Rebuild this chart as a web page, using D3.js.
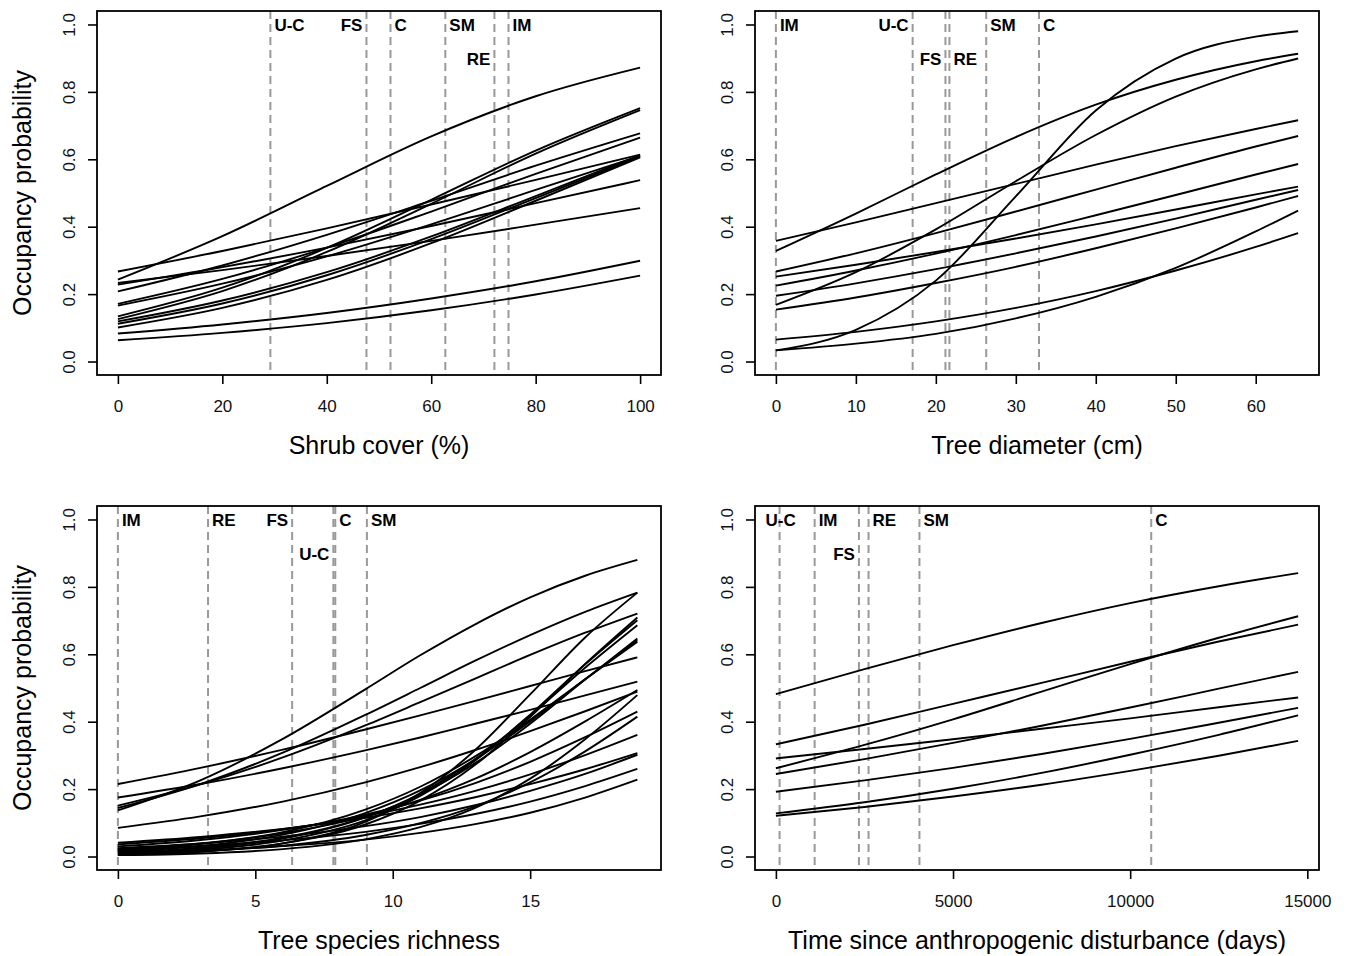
<!DOCTYPE html>
<html>
<head>
<meta charset="utf-8">
<script src="https://cdn.jsdelivr.net/npm/d3@7"></script>
<style>
  body { margin: 0; background: #fff; }
  svg { display: block; font-family: "Liberation Sans", Arial, sans-serif; }
</style>
</head>
<body>
<svg id="chart" width="1347" height="956"></svg>
<script>
// y ticks shared by every panel
var probTicks = [0, 0.2, 0.4, 0.6, 0.8, 1.0];

// Shrub cover
var shrubX = [0, 20, 40, 60, 80, 100];
var shrubTicks = [0, 20, 40, 60, 80, 100];
var shrubCurves = [
  [0.243, 0.372, 0.521, 0.668, 0.787, 0.872],
  [0.267, 0.328, 0.395, 0.466, 0.539, 0.614],
  [0.233, 0.271, 0.313, 0.358, 0.406, 0.455],
  [0.228, 0.280, 0.338, 0.402, 0.470, 0.538],
  [0.208, 0.285, 0.376, 0.477, 0.581, 0.677],
  [0.171, 0.245, 0.338, 0.445, 0.557, 0.664],
  [0.166, 0.231, 0.312, 0.407, 0.509, 0.610],
  [0.134, 0.219, 0.337, 0.480, 0.626, 0.752],
  [0.126, 0.209, 0.325, 0.468, 0.617, 0.746],
  [0.119, 0.181, 0.265, 0.371, 0.491, 0.612],
  [0.112, 0.172, 0.256, 0.363, 0.485, 0.608],
  [0.101, 0.159, 0.242, 0.351, 0.477, 0.606],
  [0.083, 0.110, 0.144, 0.187, 0.238, 0.299],
  [0.063, 0.085, 0.114, 0.152, 0.199, 0.255]
];
var shrubCuts = [29.2, 47.6, 52.2, 62.7, 72.1, 74.8];
var shrubCutLabels = ["U-C", "FS", "C", "SM", "RE", "IM"];

// Tree diameter
var diamX = [0, 10, 20, 30, 40, 50, 60, 65.3];
var diamTicks = [0, 10, 20, 30, 40, 50, 60];
var diamCurves = [
  [0.358, 0.413, 0.470, 0.527, 0.584, 0.639, 0.690, 0.716],
  [0.328, 0.439, 0.555, 0.666, 0.762, 0.836, 0.891, 0.913],
  [0.033, 0.094, 0.240, 0.490, 0.745, 0.899, 0.964, 0.980],
  [0.168, 0.265, 0.392, 0.535, 0.672, 0.786, 0.867, 0.899],
  [0.267, 0.321, 0.381, 0.445, 0.510, 0.575, 0.638, 0.669],
  [0.252, 0.287, 0.325, 0.365, 0.407, 0.451, 0.496, 0.519],
  [0.225, 0.270, 0.320, 0.375, 0.434, 0.494, 0.555, 0.586],
  [0.195, 0.232, 0.274, 0.321, 0.371, 0.424, 0.480, 0.509],
  [0.154, 0.190, 0.233, 0.281, 0.336, 0.395, 0.457, 0.491],
  [0.033, 0.053, 0.082, 0.128, 0.192, 0.278, 0.386, 0.448],
  [0.065, 0.088, 0.119, 0.159, 0.209, 0.270, 0.340, 0.381]
];
var diamCuts = [0, 17.1, 21.2, 21.7, 26.3, 32.9];
var diamCutLabels = ["IM", "U-C", "FS", "RE", "SM", "C"];

// Tree species richness
var richX = [0, 3, 6, 9, 11, 13, 15, 17, 18.9];
var richTicks = [0, 5, 10, 15];
var richCurves = [
  [0.137, 0.226, 0.349, 0.496, 0.597, 0.689, 0.769, 0.833, 0.880],
  [0.144, 0.215, 0.308, 0.420, 0.500, 0.581, 0.657, 0.726, 0.783],
  [0.151, 0.214, 0.294, 0.389, 0.458, 0.528, 0.598, 0.664, 0.721],
  [0.215, 0.263, 0.317, 0.377, 0.419, 0.462, 0.506, 0.550, 0.591],
  [0.175, 0.215, 0.262, 0.315, 0.353, 0.394, 0.435, 0.478, 0.519],
  [0.085, 0.119, 0.163, 0.220, 0.265, 0.316, 0.372, 0.431, 0.489],
  [0.005, 0.014, 0.039, 0.103, 0.188, 0.316, 0.481, 0.650, 0.783],
  [0.006, 0.015, 0.039, 0.095, 0.166, 0.272, 0.414, 0.571, 0.709],
  [0.008, 0.020, 0.047, 0.107, 0.180, 0.285, 0.421, 0.570, 0.701],
  [0.010, 0.023, 0.053, 0.116, 0.187, 0.289, 0.418, 0.560, 0.686],
  [0.012, 0.026, 0.056, 0.117, 0.184, 0.277, 0.394, 0.525, 0.647],
  [0.015, 0.031, 0.065, 0.129, 0.196, 0.288, 0.401, 0.526, 0.642],
  [0.018, 0.037, 0.072, 0.139, 0.207, 0.297, 0.406, 0.526, 0.637],
  [0.022, 0.039, 0.069, 0.119, 0.168, 0.231, 0.310, 0.401, 0.494],
  [0.004, 0.009, 0.022, 0.051, 0.087, 0.144, 0.231, 0.348, 0.479],
  [0.030, 0.049, 0.079, 0.124, 0.166, 0.218, 0.281, 0.354, 0.430],
  [0.008, 0.016, 0.032, 0.064, 0.099, 0.149, 0.220, 0.312, 0.415],
  [0.036, 0.054, 0.081, 0.120, 0.154, 0.195, 0.244, 0.301, 0.361],
  [0.041, 0.058, 0.082, 0.115, 0.143, 0.176, 0.215, 0.259, 0.307],
  [0.025, 0.039, 0.059, 0.090, 0.117, 0.152, 0.195, 0.245, 0.302],
  [0.020, 0.031, 0.048, 0.073, 0.097, 0.126, 0.163, 0.209, 0.260],
  [0.011, 0.018, 0.031, 0.050, 0.070, 0.096, 0.130, 0.175, 0.228]
];
var richCuts = [0, 3.28, 6.34, 7.84, 7.91, 9.06];
var richCutLabels = ["IM", "RE", "FS", "U-C", "C", "SM"];

// Time since anthropogenic disturbance
var timeX = [0, 2500, 5000, 7500, 10000, 12500, 14740];
var timeTicks = [0, 5000, 10000, 15000];
var timeCurves = [
  [0.482, 0.556, 0.627, 0.693, 0.752, 0.802, 0.841],
  [0.333, 0.391, 0.453, 0.515, 0.578, 0.638, 0.688],
  [0.262, 0.331, 0.407, 0.489, 0.571, 0.649, 0.713],
  [0.291, 0.319, 0.348, 0.379, 0.410, 0.443, 0.472],
  [0.245, 0.289, 0.337, 0.388, 0.442, 0.498, 0.548],
  [0.192, 0.226, 0.263, 0.304, 0.349, 0.397, 0.441],
  [0.128, 0.161, 0.201, 0.248, 0.302, 0.361, 0.419],
  [0.121, 0.147, 0.178, 0.213, 0.254, 0.299, 0.343]
];
var timeCuts = [104, 1094, 2344, 2615, 4052, 10594];
var timeCutLabels = ["U-C", "IM", "FS", "RE", "SM", "C"];

// layout: where each cut label sits (side of line, row)
var panels = [
  {left: 97, top: 11, xmax: 100, xs: shrubX, curves: shrubCurves, ticks: shrubTicks,
   cuts: shrubCuts, cutLabels: shrubCutLabels, title: "Shrub cover (%)", ylab: true,
   place: [["r", 1], ["l", 1], ["r", 1], ["r", 1], ["l", 2], ["r", 1]]},
  {left: 755, top: 11, xmax: 65.3, xs: diamX, curves: diamCurves, ticks: diamTicks,
   cuts: diamCuts, cutLabels: diamCutLabels, title: "Tree diameter (cm)", ylab: false,
   place: [["r", 1], ["l", 1], ["l", 2], ["r", 2], ["r", 1], ["r", 1]]},
  {left: 97, top: 506, xmax: 19, xs: richX, curves: richCurves, ticks: richTicks,
   cuts: richCuts, cutLabels: richCutLabels, title: "Tree species richness", ylab: true,
   place: [["r", 1], ["r", 1], ["l", 1], ["l", 2], ["r", 1], ["r", 1]]},
  {left: 755, top: 506, xmax: 14740, xs: timeX, curves: timeCurves, ticks: timeTicks,
   cuts: timeCuts, cutLabels: timeCutLabels, title: "Time since anthropogenic disturbance (days)", ylab: false,
   place: [["c", 1], ["r", 1], ["l", 2], ["r", 1], ["r", 1], ["r", 1]]}
];

var W = 564, H = 364;
var svg = d3.select("#chart");

panels.forEach(function(p) {
  var g = svg.append("g");
  var x = d3.scaleLinear()
    .domain([-0.04 * p.xmax, 1.04 * p.xmax])
    .range([p.left, p.left + W]);
  var y = d3.scaleLinear()
    .domain([-0.04, 1.04])
    .range([p.top + H, p.top]);

  // dashed cut lines
  g.selectAll("line.cut")
    .data(p.cuts)
    .enter().append("line")
      .attr("class", "cut")
      .attr("x1", function(d) { return x(d); })
      .attr("x2", function(d) { return x(d); })
      .attr("y1", p.top)
      .attr("y2", p.top + H)
      .attr("stroke", "#999")
      .attr("stroke-width", 2)
      .attr("stroke-dasharray", "8,5");

  // cut labels
  g.selectAll("text.cutlab")
    .data(p.cutLabels)
    .enter().append("text")
      .attr("class", "cutlab")
      .attr("x", function(d, i) {
        var s = p.place[i][0];
        return x(p.cuts[i]) + (s == "r" ? 4 : s == "l" ? -4 : 1);
      })
      .attr("y", function(d, i) { return p.top + (p.place[i][1] == 1 ? 14 : 48); })
      .attr("dy", "0.35em")
      .attr("text-anchor", function(d, i) {
        var s = p.place[i][0];
        return s == "r" ? "start" : s == "l" ? "end" : "middle";
      })
      .attr("font-size", 17)
      .attr("font-weight", "bold")
      .text(function(d) { return d; });

  // curves
  var line = d3.line()
    .x(function(d, i) { return x(p.xs[i]); })
    .y(function(d) { return y(d); })
    .curve(d3.curveMonotoneX);

  g.selectAll("path.curve")
    .data(p.curves)
    .enter().append("path")
      .attr("class", "curve")
      .attr("d", line)
      .attr("fill", "none")
      .attr("stroke", "#000")
      .attr("stroke-width", 1.9);

  // box
  g.append("rect")
    .attr("x", p.left)
    .attr("y", p.top)
    .attr("width", W)
    .attr("height", H)
    .attr("fill", "none")
    .attr("stroke", "#000")
    .attr("stroke-width", 1.8);

  // x axis
  var xa = g.append("g")
    .attr("transform", "translate(0," + (p.top + H) + ")")
    .call(d3.axisBottom(x).tickValues(p.ticks).tickSize(9).tickSizeOuter(0).tickFormat(d3.format("d")));
  xa.select(".domain").remove();
  xa.selectAll("line").attr("stroke-width", 1.6);
  xa.selectAll("text")
    .attr("y", 25)
    .attr("font-size", 17)
    .attr("font-family", "Liberation Sans, Arial, sans-serif")
    .attr("fill", "#111");

  // y axis, labels parallel to axis
  var ya = g.append("g")
    .attr("transform", "translate(" + p.left + ",0)")
    .call(d3.axisLeft(y).tickValues(probTicks).tickSize(9).tickSizeOuter(0).tickFormat(d3.format(".1f")));
  ya.select(".domain").remove();
  ya.selectAll("line").attr("stroke-width", 1.6);
  ya.selectAll("text")
    .attr("x", null)
    .attr("dy", null)
    .attr("text-anchor", "middle")
    .attr("transform", "translate(-22,0) rotate(-90)")
    .attr("font-size", 17)
    .attr("font-family", "Liberation Sans, Arial, sans-serif")
    .attr("fill", "#111");

  // axis titles
  g.append("text")
    .attr("x", p.left + W / 2)
    .attr("y", p.top + H + 70)
    .attr("dy", "0.35em")
    .attr("text-anchor", "middle")
    .attr("font-size", 25)
    .text(p.title);

  if (p.ylab) {
    g.append("text")
      .attr("transform", "translate(" + (p.left - 75) + "," + (p.top + H / 2) + ") rotate(-90)")
      .attr("dy", "0.35em")
      .attr("text-anchor", "middle")
      .attr("font-size", 25)
      .text("Occupancy probability");
  }
});
</script>
</body>
</html>
